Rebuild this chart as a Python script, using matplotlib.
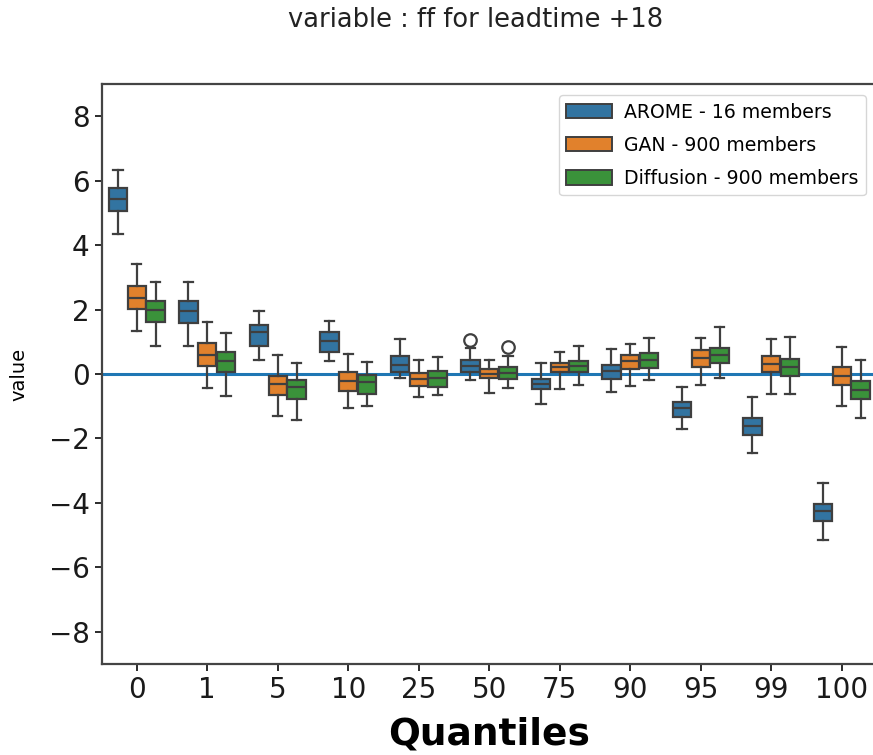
import matplotlib
matplotlib.use("Agg")
import matplotlib.pyplot as plt
from matplotlib.patches import Patch

quantiles = ["0", "1", "5", "10", "25", "50", "75", "90", "95", "99", "100"]
series = ["AROME - 16 members", "GAN - 900 members", "Diffusion - 900 members"]
colors = ["#3274a1", "#e1812c", "#3a923a"]

# per series: lists over quantiles of (whislo, q1, med, q3, whishi)
arome_whislo = [4.33, 0.88, 0.44, 0.40, -0.13, -0.19, -0.93, -0.57, -1.71, -2.45, -5.15]
arome_q1     = [5.06, 1.58, 0.88, 0.67, 0.07, 0.05, -0.47, -0.16, -1.32, -1.88, -4.57]
arome_med    = [5.43, 1.97, 1.29, 1.01, 0.29, 0.24, -0.31, 0.10, -1.07, -1.60, -4.26]
arome_q3     = [5.77, 2.26, 1.52, 1.29, 0.57, 0.43, -0.16, 0.29, -0.88, -1.35, -4.04]
arome_whishi = [6.34, 2.87, 1.95, 1.63, 1.09, 0.80, 0.33, 0.78, -0.39, -0.70, -3.39]
arome_fliers = [[], [], [], [], [], [1.07], [], [], [], [], []]

gan_whislo = [1.34, -0.42, -1.29, -1.05, -0.70, -0.60, -0.47, -0.36, -0.34, -0.62, -1.00]
gan_q1     = [2.01, 0.25, -0.65, -0.52, -0.36, -0.13, 0.05, 0.16, 0.23, 0.05, -0.33]
gan_med    = [2.36, 0.60, -0.31, -0.21, -0.16, 0.01, 0.21, 0.41, 0.49, 0.31, -0.05]
gan_q3     = [2.72, 0.95, -0.05, 0.07, 0.03, 0.16, 0.33, 0.59, 0.75, 0.55, 0.23]
gan_whishi = [3.42, 1.61, 0.59, 0.62, 0.44, 0.44, 0.67, 0.93, 1.12, 1.09, 0.83]
gan_fliers = [[], [], [], [], [], [], [], [], [], [], []]

diff_whislo = [0.88, -0.69, -1.42, -0.99, -0.65, -0.42, -0.34, -0.19, -0.13, -0.62, -1.35]
diff_q1     = [1.61, 0.07, -0.78, -0.62, -0.40, -0.16, 0.07, 0.18, 0.33, -0.07, -0.78]
diff_med    = [2.00, 0.41, -0.41, -0.26, -0.13, 0.03, 0.24, 0.43, 0.60, 0.21, -0.49]
diff_q3     = [2.26, 0.67, -0.18, -0.03, 0.10, 0.21, 0.41, 0.65, 0.81, 0.47, -0.21]
diff_whishi = [2.87, 1.26, 0.34, 0.38, 0.54, 0.55, 0.88, 1.12, 1.47, 1.14, 0.44]
diff_fliers = [[], [], [], [], [], [0.85], [], [], [], [], []]

all_stats = [
    (arome_whislo, arome_q1, arome_med, arome_q3, arome_whishi, arome_fliers),
    (gan_whislo, gan_q1, gan_med, gan_q3, gan_whishi, gan_fliers),
    (diff_whislo, diff_q1, diff_med, diff_q3, diff_whishi, diff_fliers),
]

fig = plt.figure(figsize=(8.73, 7.55), dpi=100)
ax = fig.add_axes([101.5 / 873, (755 - 664) / 755, (877 - 101.5) / 873, (664 - 84) / 755])

edge = "#3f3f3f"
n = len(series)
group_w = 0.8
bw = group_w / n
for s, (wl, q1, md, q3, wh, fl) in enumerate(all_stats):
    offset = -group_w / 2 + bw * (s + 0.5)
    stats = []
    for i in range(len(quantiles)):
        stats.append(dict(whislo=wl[i], q1=q1[i], med=md[i], q3=q3[i], whishi=wh[i], fliers=fl[i]))
    positions = [i + offset for i in range(len(quantiles))]
    ax.bxp(stats, positions=positions, widths=bw * 0.98, patch_artist=True, manage_ticks=False,
           boxprops=dict(facecolor=colors[s], edgecolor=edge, linewidth=1.6),
           medianprops=dict(color=edge, linewidth=1.6),
           whiskerprops=dict(color=edge, linewidth=1.6),
           capprops=dict(color=edge, linewidth=1.6),
           flierprops=dict(marker="o", markerfacecolor="none", markeredgecolor=edge,
                           markersize=9, markeredgewidth=1.6),
           zorder=3)

ax.axhline(0, color="#1f77b4", linewidth=2.2, zorder=2)

ax.set_xlim(-0.5, len(quantiles) - 0.5)
ax.set_ylim(-9, 9)
ax.set_xticks(range(len(quantiles)))
ax.set_xticklabels(quantiles)
ax.set_yticks([-8, -6, -4, -2, 0, 2, 4, 6, 8])
ax.tick_params(axis="both", labelsize=20, length=5, width=1.3, colors="#1a1a1a")
for sp in ax.spines.values():
    sp.set_linewidth(1.6)
    sp.set_color("#444444")
ax.spines["right"].set_visible(False)

ax.set_xlabel("Quantiles", fontsize=27, fontweight="bold", va="center")
ax.xaxis.set_label_coords(0.5, (664 - 734) / 580)
ax.set_ylabel("value", fontsize=14)
ax.yaxis.set_label_coords(-0.094, 0.5)

handles = [Patch(facecolor=c, edgecolor=edge, linewidth=1.4) for c in colors]
ax.legend(handles, series, loc="upper right", bbox_to_anchor=((866 - 101.5) / (877 - 101.5), (664 - 95) / (664 - 84)),
          borderaxespad=0, fontsize=13.6, handlelength=2.4, handleheight=0.8, labelspacing=0.75,
          handletextpad=0.65, frameon=True)

fig.text(476 / 873, 1 - 20 / 755, "variable : ff for leadtime +18", ha="center", va="center",
         fontsize=18.5, color="#222222")

fig.savefig("out.png", dpi=100)
